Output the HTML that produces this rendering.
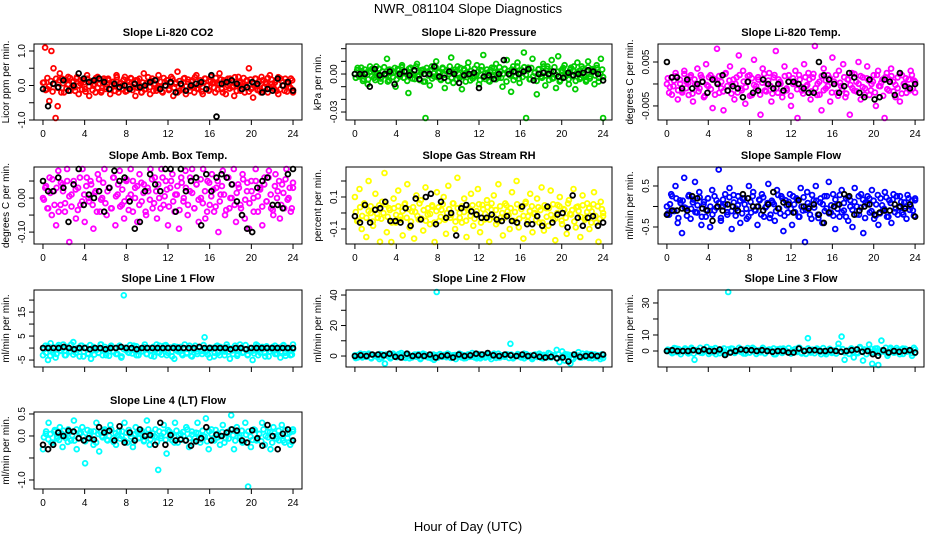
<!DOCTYPE html>
<html><head><meta charset="utf-8"><title>NWR_081104 Slope Diagnostics</title>
<style>
html,body{margin:0;padding:0;background:#fff;}
svg{display:block;font-family:"Liberation Sans",Arial,sans-serif;}
</style></head>
<body>
<svg id="chart" width="936" height="540" viewBox="0 0 936 540" xmlns="http://www.w3.org/2000/svg">
<rect x="0" y="0" width="936" height="540" fill="#fff"/>
<text x="468" y="13" text-anchor="middle" font-size="13">NWR_081104  Slope Diagnostics</text>
<text x="468" y="531" text-anchor="middle" font-size="13">Hour of Day (UTC)</text>
</svg>
<script>
// ---- data ----
const xTicks = [0,4,8,12,16,20,24];
const titles = ["Slope Li-820 CO2","Slope Li-820 Pressure","Slope Li-820 Temp.","Slope Amb. Box Temp.","Slope Gas Stream RH","Slope Sample Flow","Slope Line 1 Flow","Slope Line 2 Flow","Slope Line 3 Flow","Slope Line 4 (LT) Flow"];
const yTitles = ["Licor ppm per min.","kPa per min.","degrees C per min.","degrees C per min.","percent per min.","ml/min per min.","ml/min per min.","ml/min per min.","ml/min per min.","ml/min per min."];
const colors = ["#ff0000","#00cc00","#ff00ff","#ff00ff","#ffff00","#0000ff","#00ffff","#00ffff","#00ffff","#00ffff"];
const units = [0.01,0.001,0.0001,0.01,0.01,0.01,0.1,0.1,0.1,0.01];
const coreUnits = [0.022,0.0006,0.00025,0.005,0.006,0.028,0.25,0.15,0.2,0.015];
const coreCenter = [0.02,0,-0.0002,0.01,0,0,-1.0,0,0,0];
const yDomains = [[-1.0,1.203],[-0.0363,0.0237],[-0.0082,0.0091],[-0.135,0.0912],[-0.194,0.2875],[-0.915,0.963],[-7.9,24.2],[-7.2,43.3],[-10,38.1],[-1.205,0.545]];
const yTicks = [[-1,-0.5,0,0.5,1],[-0.03,-0.02,-0.01,0,0.01,0.02],[-0.005,0,0.005],[-0.1,-0.05,0,0.05],[-0.1,0,0.1,0.2],[-0.5,0,0.5],[-5,0,5,10,15,20],[0,10,20,30,40],[0,10,20,30],[-1,-0.5,0,0.5]];
const yTickLabels = [["-1.0","","0.0","","1.0"],["-0.03","","","0.00","",""],["-0.005","","0.005"],["-0.10","","0.00",""],["-0.1","","0.1",""],["-0.5","","0.5"],["-5","","5","","15",""],["0","","20","","40"],["0","10","","30"],["-1.0","","0.0","0.5"]];

const co2All = [8,110,-10,-45,100,50,-95,-60,35,20,-20,15,25,-15,10,-5,20,-25,5,15,-10,30,-30,10,0,-20,25,5,-15,20,-10,15,-25,10,0,30,-20,5,-10,25,-15,10,20,-5,-30,15,0,-20,35,-10,10,-25,20,5,-15,30,-5,-20,10,15,-10,25,-30,5,40,-15,0,20,-25,10,-5,15,-20,30,-10,5,-25,20,0,-15,25,10,-20,5,35,-10,15,-25,0,20,-5,-30,10,25,-15,5,-20,15,50,-10,-35,20,0,-15,25,-5,10,-20,30,5,-10,15,-25,20,0,-15,10,-5,20,-20];
const co2Sel = [-10,-60,5,-5,15,-15,0,35,20,10,15,20,10,-10,5,-5,0,-10,5,-5,0,10,15,-10,0,10,-20,5,-15,0,5,10,-10,30,-90,5,10,15,5,-10,-5,10,5,-20,-10,-15,20,0,10,-15];
const co2Core = [3,-7,9,-2,5,-9,1,8,-4,6,-10,2,7,-5,0,9,-3,4,-8,10,-1,6,-6,3,-9,8,-2,5,-7,1,9,-4,7,-10,2,6,-3,8,-6,0,4,-8,10,-5,3,-1,7,-9,5,-2,9,-7,1,6,-4,8,-10,3,-6,2,10,-3,5,-8,0,7,-5,4,-9,9,-1,6,-7,2,8,-4,3,-10,5,1,-6,9,-2,7,-8,4,-3,10,-5,0,6,-9,3,8,-1,-7,5,2,-4,9,-6,1,7,-10,4,-3,8,-5,6,-2,10,-8,0,3,-6,9,-1,5,-9,7,-4,2,8,-7,4,-10,6,-3,1,9,-5,7,-2,3,-8,10,-6,5,-1,8,-9,2,-4,6,-7];
const presAll = [0,3,-2,5,-4,1,-8,2,4,-3,6,-1,-6,2,0,12,-5,3,1,-10,4,-2,7,-3,2,-15,5,0,-4,8,-1,3,-6,-36,2,-9,6,-2,10,1,-4,5,-11,3,0,13,-7,2,6,-3,-12,4,1,9,-5,0,-2,7,-8,3,15,-4,1,-6,5,-1,8,-3,2,-10,4,11,0,-14,6,-2,9,-7,3,17,-35,5,-4,12,1,-16,4,-2,8,-9,6,0,11,-3,-11,14,-5,2,7,-1,-8,5,3,-12,9,-4,6,1,-6,10,-2,4,-8,7,-3,12,-35];
const presSel = [0,0,0,-10,4,-1,0,2,-8,0,2,-1,3,-4,0,0,6,-2,-3,2,0,-7,-1,0,1,-11,-2,-1,-4,0,11,0,2,0,2,4,-5,0,1,0,2,-2,-3,1,-1,0,1,3,2,0,-5];
const presCore = [-5,8,-1,4,-9,6,2,-7,10,-3,5,-8,0,7,-6,3,9,-2,-10,6,1,-4,8,-7,5,-1,9,-5,3,-9,7,0,-6,4,10,-3,-8,2,6,-10,8,-2,5,-6,1,9,-4,3,-8,7,-1,4,-9,10,-5,2,6,-7,0,8,-3,5,-10,9,-2,4,-6,7,-1,3,-8,10,-4,1,6,-9,5,-3,8,-7,2,9,-5,0,7,-10,4,-2,6,-8,3,10,-6,1,-4,9,-1,5,-7,8,-3,2,-9,6,0,-5,10,-2,7,-8,4,-6,9,-1,3,-10,5,8,-4,1,-7,6,-3,10,-9,2,4,-5,7,-1,-8,9,-6,3,5,-2,8,-10,0,6,-4];
const tempAll = [0,-20,15,-5,25,-35,10,-15,30,5,-25,20,-40,0,35,-10,15,-30,45,-5,20,-55,10,80,-20,5,-60,25,-15,40,0,-35,15,65,-10,30,-45,5,20,-25,55,-5,10,-70,35,-15,0,25,-40,15,75,-20,5,-30,40,-10,20,-50,0,30,-85,10,-15,45,-5,25,-35,15,90,-25,5,-60,35,-10,20,-40,60,0,-20,30,-5,45,-30,10,-70,25,-15,5,50,-35,15,-10,40,-25,0,20,-50,30,-5,10,-80,25,-15,35,5,-30,15,-40,20,0,-20,10,30,-10,5];
const tempSel = [50,15,15,-10,10,-10,0,5,-20,10,0,20,-15,-5,-10,-30,5,-20,-15,10,0,-10,0,-15,5,5,0,-10,-20,-20,50,20,10,0,-20,-5,25,15,-20,-30,10,-35,-30,10,5,-25,25,-5,-10,0];
const tempCore = [6,-2,-9,4,8,-5,1,-7,10,-3,2,7,-8,5,-1,-6,9,3,-10,0,7,-4,6,-9,2,8,-3,-6,10,-1,4,-8,5,1,-7,9,-5,3,-2,8,-10,6,0,-4,7,-9,2,10,-6,4,-1,-8,9,-3,5,1,-7,8,-5,3,-10,6,2,-4,9,-2,-8,7,0,5,-6,10,-3,1,-9,8,-5,4,-1,6,-7,3,9,-10,2,-4,7,-8,5,0,-3,10,-6,1,8,-2,-9,6,4,-5,3,-7,9,-1,2,-10,7,-4,5,8,-6,0,-3,10,-8,1,6,-2,-5,9,4,-7];
const ambAll = [0,3,-3,6,-5,2,-8,8,-2,4,-4,10,-13,1,5,-6,3,-2,12,-7,6,-1,4,-9,2,7,-4,0,9,-5,3,-3,6,-8,1,8,-2,-6,5,0,10,-4,3,-7,7,-1,4,-5,2,9,-3,6,-6,0,11,-2,5,-8,3,7,-4,1,-9,6,-1,8,-5,2,10,-3,4,-7,0,9,-6,5,-2,7,-4,3,-10,1,8,-5,6,-3,0,9,-7,4,-2,7,-6,2,-9,5,0,10,-4,3,-8,6,-1,8,-3,-5,7,2,-6,4,-3,9,0,-4,3];
const ambSel = [5,2,2,6,3,-7,4,11,-2,1,0,2,-4,3,8,5,6,-1,-9,-7,2,7,4,2,10,12,-4,9,2,5,6,-8,7,2,6,7,6,4,-1,-5,-9,-10,3,5,6,-2,-2,-3,7,9];
const ambCore = [-3,5,-8,1,9,-6,4,-10,7,2,-5,8,-1,-7,6,3,-9,10,-4,0,5,-2,8,-6,1,-10,9,-3,7,-5,2,4,-8,10,-1,6,-7,3,-4,9,-9,0,8,-2,5,-6,7,1,-10,4,-3,9,-5,2,6,-8,10,-1,3,-7,8,-4,0,5,-9,7,-2,4,-6,10,1,-8,6,-3,9,-5,2,-10,7,-1,3,-7,8,-4,5,0,-9,10,-2,6,-6,1,4,-8,9,-3,7,-5,2,-10,8,-1,3,-7,6,-4,10,0,-9,5,-2,8,-6,1,9,-3,4,-8,7];
const rhAll = [10,-5,15,-10,5,-15,20,0,-8,12,-3,-18,7,25,-12,3,-20,9,-6,14,-2,-14,6,18,-9,1,-16,11,-4,8,-11,16,-1,-7,4,-19,13,-5,2,10,-13,17,-3,6,-10,22,0,-6,9,-15,3,12,-8,-1,15,-12,5,-4,8,-18,2,11,-7,18,-3,-14,6,1,-10,13,-5,20,-9,4,-16,7,-2,12,-12,0,9,-6,16,-11,3,-8,14,-4,-17,5,10,-7,2,-13,8,-1,15,-9,4,-15,11,-3,6,-10,1,13,-6,-18,7,-2];
const rhSel = [-2,-6,5,-6,2,3,7,-5,-5,-6,3,-8,9,-4,10,12,-7,7,-3,0,-14,3,5,1,-1,-3,-3,-1,-4,-5,-2,-5,-6,4,-7,-7,-2,-8,4,-6,-1,0,-9,11,-3,-8,-3,-2,-8,-6];
const rhCore = [1,-8,6,-3,10,-5,2,7,-9,4,-1,8,-6,0,9,-4,3,-10,5,-2,7,-7,2,9,-5,4,-9,6,1,-3,10,-6,3,-8,5,-1,8,-10,2,6,-4,9,-7,0,4,-2,10,-9,5,-5,7,1,-8,3,-3,8,-6,2,9,-10,4,-1,6,-7,10,-4,3,-9,7,0,-5,8,-2,5,-8,1,9,-6,4,-3,10,-9,2,7,-1,-7,6,3,-10,8,-4,5,-2,9,-6,0,7,-8,4,-5,10,-1,3,-9,6,2,-4,8,-7,1,5,-10,9,-3,7,-6,4,0];
const sflowAll = [0,-20,30,-10,50,-40,15,-65,70,-5,25,-30,10,60,-15,35,-45,5,-25,20,-50,40,-10,15,90,-35,0,30,-20,45,-55,10,-5,25,-40,20,5,-30,50,-15,35,-10,-45,15,30,-25,0,55,-20,10,-35,40,-5,25,-60,15,-15,30,-45,5,20,-25,45,-10,-90,35,0,-30,15,50,-20,10,-40,25,-5,60,-15,30,-55,5,-25,40,-10,20,-35,15,-50,45,0,-20,30,-65,10,25,-15,40,-30,5,-45,20,-10,35,-25,15,-40,30,-5,-20,25,-15,10,-30,20,0,-10,15];
const sflowSel = [-20,-10,-10,-5,-10,25,20,-5,-10,-35,0,-10,5,0,-10,30,20,0,0,-10,5,35,-5,10,5,-15,15,0,-5,5,-20,-40,-15,0,5,30,25,-20,-10,0,5,-20,-15,-10,-10,5,0,-5,5,-25];
const sflowCore = [-6,2,9,-4,7,-10,3,5,-1,-8,10,-2,6,-5,1,8,-9,4,-3,7,0,-7,9,-1,3,-10,6,2,-5,8,-4,10,-8,1,5,-6,7,-2,-9,4,9,-3,0,6,-7,8,-1,3,-10,5,2,-4,10,-6,7,-8,1,4,-2,9,-5,6,-9,0,8,-3,3,-7,10,-1,5,-10,7,2,-4,9,-6,1,-8,6,-2,10,-5,3,-9,8,0,-3,4,-7,9,-1,6,-10,2,7,-4,5,-8,10,-6,1,-2,8,-9,3,6,-5,9,-1,4,-7,0,10,-3,5,-8,7];
const line1All = [-30,10,-50,20,-20,-40,5,-10,15,-30,0,-15,25,-20,-5,10,-35,0,-25,-45,5,-10,-20,15,-5,-30,0,10,-15,-25,5,-40,220,-10,-20,0,10,-30,-5,-15,5,-25,0,-10,-35,15,-20,-5,10,-30,0,-15,-45,5,-10,-25,0,-20,10,-35,-5,-15,5,-25,45,-10,-40,0,-20,10,-30,-5,-15,5,-45,-10,0,-25,15,-20,-5,-30,0,-50,-10,10,-20,-5,-35,0,-15,5,-25,-10,-40,10,-20,0,-30,-5];
const line1Sel = [0,0,0,0,5,0,-5,0,0,-5,0,0,-5,0,0,5,0,0,-5,0,0,0,0,0,0,0,0,0,0,0,5,0,0,0,0,0,-5,0,0,-5,0,0,0,0,0,0,0,0,0];
const line1Core = [2,-4,7,-9,0,5,-6,9,-1,3,-8,6,-3,10,-7,1,4,-10,8,-2,5,-5,9,0,-7,3,-4,10,-8,6,1,-9,7,-2,4,-6,8,-10,2,5,-3,9,-5,0,7,-8,3,-1,10,-6,4,-9,6,1,-3,8,-7,2,9,-4,5,-10,7,0,-2,6,-8,10,-5,3,-9,1,8,-6,4,-1,9,-3,-7,5,2,-10,7,-4,6,0,-8,10,-2,3,-6,8,-9,1,5,-3,9,-7,4,-1,-5,10,-8,2,6,-4,7,-10,3,0,8,-6,5,-2,9,-9,1,4,-7,10];
const line2All = [5,-10,15,0,-5,10,-15,5,0,-20,10,-50,5,-10,15,0,-5,20,-10,5,-15,0,10,-5,-20,15,0,-10,5,-25,420,10,-5,0,15,-10,5,-20,0,10,-15,5,-5,20,-10,0,-15,10,-5,5,-20,15,0,-10,5,-5,10,80,-15,0,5,-10,15,-5,0,-20,10,-5,5,-15,0,20,-10,5,40,-40,30,-30,10,-50,-20,5,25,-10,0,15,-5,-15,10,0,-20,5];
const line2Sel = [0,5,0,10,10,5,15,-5,-10,15,0,5,0,10,-10,0,5,-10,10,0,5,15,10,20,5,0,10,5,0,10,0,5,-5,-10,-5,-15,-10,-35,10,-5,0,5,0,10];
const line2Core = [-9,4,1,-6,8,-3,10,-7,5,0,-4,9,-8,2,6,-1,-10,7,3,-5,9,-2,4,-8,10,1,-6,5,-3,8,-9,0,7,-4,2,-10,6,3,-7,9,-1,5,-5,8,-8,1,4,-2,10,-6,3,-9,7,0,-3,6,-10,9,-1,2,-7,8,-4,5,1,-8,10,-5,3,-2,7,-9,6,-6,0,9,-3,4,-10,8,-1,2,-7,6,-4,10,-8,5,1,-5,9,-2,3,-9,7,-6,0,8,-3,4,-10,6,-1,2,-7,10,-4,5,-8,9,1,-6,3,-2,7,-9];
const line3All = [0,5,-10,15,-5,0,10,-15,20,-55,5,-10,0,25,-5,10,-20,5,0,-10,370,15,-5,0,10,-15,5,-10,20,0,-5,10,-15,0,5,-20,10,-5,15,0,-10,5,-5,20,-15,0,80,-10,5,15,-5,0,-20,10,-5,5,45,90,-55,0,10,-40,-10,25,-60,5,40,-80,15,-100,65,0,-30,20,-10,5,-20,15,-5,0,-30,10];
const line3Sel = [0,5,0,0,0,5,0,10,0,0,10,-25,-10,0,10,5,5,0,5,0,-5,0,0,-10,-10,15,0,5,5,0,0,5,0,-5,0,5,10,-5,0,-20,-30,5,-10,0,-5,0,5,-10];
const line3Core = [4,-1,-7,9,-3,6,-10,2,8,-5,0,7,-8,3,-2,10,-6,5,1,-9,6,-4,9,-1,-7,3,8,-10,5,-2,7,-6,0,10,-3,4,-8,9,-5,1,6,-9,2,-4,10,-7,3,5,-1,8,-10,0,7,-6,4,-2,9,-8,1,6,-3,10,-5,2,-9,8,-1,4,-7,5,3,-10,9,-4,0,7,-6,2,-8,10,-2,6,-5,1,-9,8,-3,4,-7,9,-1,5,-10,3,7,-4,0,8,-6,2,-2,10,-8,6,1,-5,9,-3,4,-9,7,-1,3,-7,10,-6];
const line4All = [-30,5,30,-15,10,-5,20,-25,0,15,-10,35,-30,5,20,-62,-5,10,-20,30,-35,0,15,-10,25,-5,-20,10,0,30,-15,5,-25,20,-5,10,-10,35,-20,0,15,-77,-5,25,-40,10,-10,30,-15,5,0,20,-25,10,-5,30,-15,0,40,-30,15,-10,5,-20,25,-5,10,47,-30,20,0,-15,30,-115,-25,15,-10,5,30,-20,10,-30,20,0,-10,25,-15,5,-20,15];
const line4Sel = [-20,-30,-20,8,0,12,10,-5,-10,-5,-8,20,8,12,-10,22,-15,8,-10,15,0,2,-20,30,-20,2,-10,-8,-10,-22,-12,-5,20,-10,3,0,8,15,12,-10,-15,13,-5,-22,25,0,-30,5,15,-10];
const line4Core = [-2,7,-5,3,-10,9,0,-6,4,8,-3,-9,6,1,-7,10,-4,5,-1,-8,9,2,-5,7,-10,3,6,-2,8,-6,0,10,-9,4,1,-4,7,-7,5,9,-1,-10,3,6,-3,8,-8,2,10,-5,4,-1,-9,7,0,5,-6,9,-2,3,-10,8,1,-4,6,-7,10,-3,2,-9,5,4,-5,8,-1,-8,7,3,-6,9,-2,0,6,-10,4,-4,10,1,-7,5,-3,8,-9,2,7,-1,-6,9,-5,3,-8,10,0,-2,6,-10,4,-4,8,1,-7,9,-3,5,-9,7];

const allSeries = [co2All,presAll,tempAll,ambAll,rhAll,sflowAll,line1All,line2All,line3All,line4All];
const selSeries = [co2Sel,presSel,tempSel,ambSel,rhSel,sflowSel,line1Sel,line2Sel,line3Sel,line4Sel];
const coreSeries = [co2Core,presCore,tempCore,ambCore,rhCore,sflowCore,line1Core,line2Core,line3Core,line4Core];

// ---- layout ----
const NS = "http://www.w3.org/2000/svg";
const svg = document.getElementById('chart');
const cols = [{l:34,r:302},{l:346,r:612},{l:658,r:924}];
const rows = [{t:44,b:120},{t:167,b:244},{t:290,b:367},{t:412,b:489}];
function mk(tag, attrs, parent){
  const e = document.createElementNS(NS, tag);
  for (const k in attrs) e.setAttribute(k, attrs[k]);
  (parent||svg).appendChild(e);
  return e;
}
for (let p = 0; p < 10; p++) {
  const c = cols[p % 3], r = rows[Math.floor(p / 3)];
  const xpad = (c.r - c.l) * 0.0335;
  const xS = h => c.l + xpad + h / 24 * (c.r - c.l - 2 * xpad);
  const [y0, y1] = yDomains[p];
  const yS = v => r.b - (v - y0) / (y1 - y0) * (r.b - r.t);
  const g = mk('g', {});
  
  
  const t = mk('text', {x:(c.l + c.r) / 2, y:r.t - 8, 'text-anchor':'middle', 'font-size':11, 'font-weight':'bold'}, g);
  t.textContent = titles[p];
  
  
  const yt = mk('text', {x:0, y:0, 'text-anchor':'middle', 'font-size':10, transform:`translate(${c.l - 25},${(r.t + r.b) / 2}) rotate(-90)`}, g);
  yt.textContent = yTitles[p];
  
  
  const pts = mk('g', {fill:'none', 'stroke-width':1.8}, g);
  
  
  const ser = [
    [coreSeries[p], colors[p], coreUnits[p], coreCenter[p], 0.09],
    [allSeries[p], colors[p], units[p], 0, 0],
    [selSeries[p], '#000', units[p], 0, 0]
  ];
  ser.forEach(([arr, col, u, off, sh]) => {
    arr.forEach((v, i) => {
      const h = Math.min(24, i / (arr.length - 1) * 24 + sh);
      const cy = Math.max(r.t + 2, Math.min(r.b - 2, yS(v * u + off)));
      const ci = mk('circle', {cx:xS(h).toFixed(1), cy:cy.toFixed(1), r:2.4, stroke:col}, pts);
      
      
    });
  });
  const bx = mk('rect', {x:c.l, y:r.t, width:c.r - c.l, height:r.b - r.t, fill:'none', stroke:'#000', 'stroke-width':1}, g);
  
  
  const xa = mk('g', {stroke:'#000', 'stroke-width':1}, g);
  
  
  mk('line', {x1:xS(xTicks[0]), x2:xS(xTicks[xTicks.length - 1]), y1:r.b, y2:r.b}, xa);
  xTicks.forEach(h => {
    mk('line', {x1:xS(h), x2:xS(h), y1:r.b, y2:r.b + 5}, xa);
    if (p >= 6 && p <= 8) return;
    const lt = mk('text', {x:xS(h), y:r.b + 17, 'text-anchor':'middle', 'font-size':10, stroke:'none'}, xa);
    lt.textContent = h;
    
    
  });
  const ya = mk('g', {stroke:'#000', 'stroke-width':1}, g);
  
  
  const tk = yTicks[p];
  mk('line', {x1:c.l, x2:c.l, y1:yS(tk[0]), y2:yS(tk[tk.length - 1])}, ya);
  tk.forEach((v, i) => {
    const y = yS(v);
    mk('line', {x1:c.l - 5, x2:c.l, y1:y, y2:y}, ya);
    const lab = yTickLabels[p][i];
    if (lab) {
      const lt = mk('text', {x:0, y:0, 'text-anchor':'middle', 'font-size':10, stroke:'none', transform:`translate(${c.l - 9},${y}) rotate(-90)`}, ya);
      lt.textContent = lab;
      
      
    }
  });
}
</script>
</body></html>
